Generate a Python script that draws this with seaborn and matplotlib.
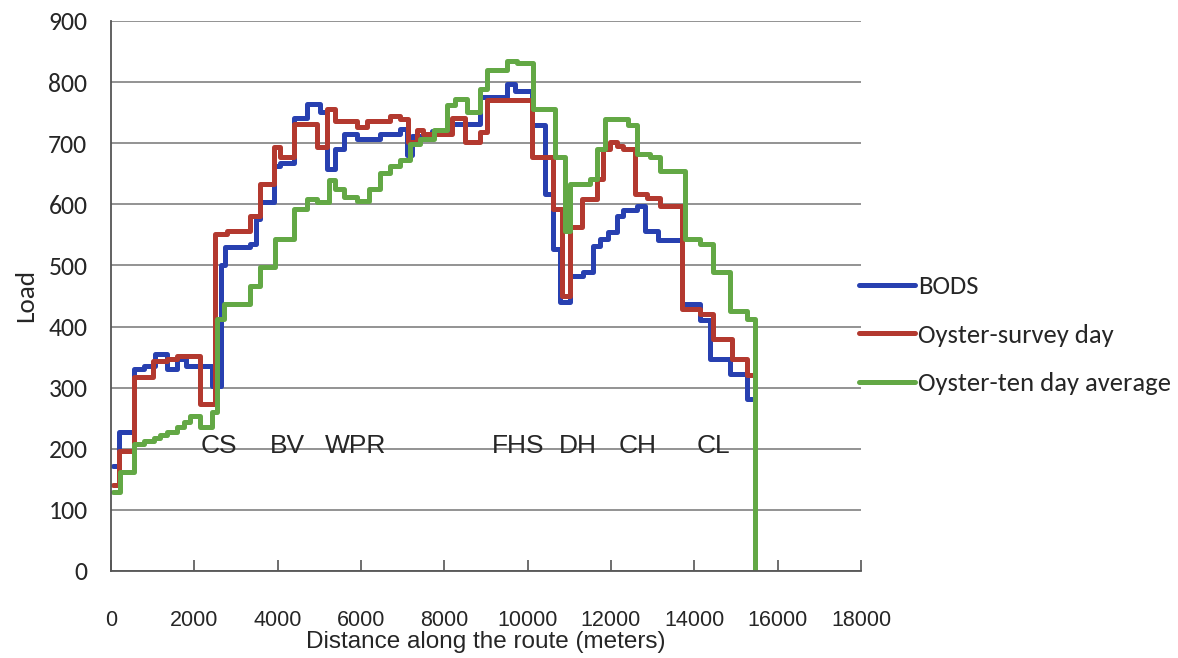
import matplotlib
matplotlib.use('Agg')

import matplotlib.pyplot as plt
import seaborn as sns
import pandas as pd

# step edges (m) and load after each edge
bods_x = [50, 185, 545, 785, 1065, 1345, 1585, 1800, 2424, 2630, 2743, 3343, 3480, 3583,
          3902, 4062, 4381, 4702, 5021, 5182, 5382, 5582, 5902, 6460, 6940, 7100, 7220,
          7700, 8180, 8858, 9498, 9698, 10098, 10417, 10616, 10776, 11017, 11337, 11577,
          11737, 11936, 12137, 12297, 12617, 12817, 13136, 13695, 14136, 14376, 14855, 15254]
bods_load = [172, 227, 330, 336, 355, 330, 347, 336, 303, 500, 530, 535, 576, 603,
             663, 668, 742, 764, 751, 658, 691, 715, 707, 715, 723, 680, 712,
             720, 731, 775, 797, 786, 729, 617, 527, 440, 483, 489, 532,
             543, 554, 581, 590, 598, 557, 541, 437, 410, 347, 322, 281]
bods_end = 15374

survey_x = [50, 185, 545, 1017, 1345, 1585, 2144, 2500, 2784, 3343, 3583, 3902, 4062,
            4381, 4942, 5182, 5382, 5902, 6141, 6700, 6940, 7139, 7340, 7499, 8180, 8498,
            8858, 9018, 10098, 10616, 10817, 11017, 11297, 11657, 11800, 11976, 12136,
            12296, 12575, 12856, 13175, 13694, 14143, 14454, 14893, 15254]
survey_load = [140, 197, 317, 344, 347, 352, 273, 551, 556, 581, 633, 693, 677,
               731, 693, 756, 737, 726, 737, 745, 740, 702, 721, 715, 742, 702,
               718, 770, 677, 592, 450, 563, 609, 641, 690, 702, 696,
               691, 617, 611, 598, 429, 420, 380, 347, 320]
survey_end = 15374

ten_x = [50, 225, 545, 785, 1025, 1185, 1345, 1585, 1745, 1905, 2144, 2424, 2545, 2703,
         3343, 3583, 3942, 4381, 4702, 4942, 5222, 5382, 5582, 5902, 6180, 6460, 6700,
         6940, 7180, 7420, 7740, 8060, 8259, 8539, 8858, 9018, 9498, 9738, 10137, 10657,
         10897, 11017, 11497, 11657, 11856, 12415, 12615, 12935, 13175, 13774, 14143,
         14454, 14853, 15254]
ten_load = [129, 162, 208, 213, 218, 223, 228, 236, 244, 254, 235, 260, 412, 437,
            467, 497, 543, 592, 609, 603, 639, 625, 612, 606, 625, 652, 663,
            672, 699, 707, 721, 762, 773, 751, 789, 819, 835, 832, 756, 677,
            557, 633, 641, 691, 740, 730, 682, 677, 655, 543, 535,
            489, 426, 412]
ten_end = 15453

stops = ['CS', 'BV', 'WPR', 'FHS', 'DH', 'CH', 'CL']
stop_x = [2580, 4235, 5860, 9770, 11210, 12650, 14450]
stop_y = 205

names = ['BODS', 'Oyster-survey day', 'Oyster-ten day average']
colors = ['#2840b0', '#b3392f', '#63a845']

frames = [
    pd.DataFrame({'x': bods_x + [bods_end], 'load': bods_load + [bods_load[-1]], 'src': names[0]}),
    pd.DataFrame({'x': survey_x + [survey_end], 'load': survey_load + [survey_load[-1]], 'src': names[1]}),
    pd.DataFrame({'x': ten_x + [ten_end], 'load': ten_load + [0], 'src': names[2]}),
]
df = pd.concat(frames, ignore_index=True)

sns.set_theme(style='white')
plt.rcParams['font.family'] = ['Liberation Sans', 'DejaVu Sans']
calibri = ['Carlito', 'Lato', 'DejaVu Sans']

fig = plt.figure(figsize=(11.78, 6.58), dpi=100)
ax = fig.add_axes([111 / 1178, 1 - 571 / 658, (861 - 111) / 1178, (571 - 21) / 658])

sns.lineplot(data=df, x='x', y='load', hue='src', palette=colors,
             drawstyle='steps-post', linewidth=3.6, ax=ax, legend=True)

ax.set_xlim(0, 18000)
ax.set_ylim(0, 900)
ax.set_xticks(range(0, 18001, 2000))
ax.set_yticks(range(0, 901, 100))
ax.yaxis.grid(True, color='#8a8a8a', linewidth=1.3)
ax.set_axisbelow(True)
for s in ['top', 'right']:
    ax.spines[s].set_visible(False)
for s in ['left', 'bottom']:
    ax.spines[s].set_color('#555555')
    ax.spines[s].set_linewidth(1.3)

ax.tick_params(axis='x', direction='in', length=8, width=1.2, color='#555555',
               pad=28, labelsize=15.5, bottom=True)
ax.tick_params(axis='y', length=0, pad=17, labelsize=18.5)
for lab in ax.get_yticklabels():
    lab.set_family(calibri)

ax.set_xlabel('Distance along the route (meters)', fontsize=17.5, labelpad=0)
ax.set_ylabel('Load', fontsize=19.5, labelpad=8, family=calibri)

for name, sx in zip(stops, stop_x):
    ax.text(sx, stop_y, name, ha='center', va='center', fontsize=19)

handles, labels = ax.get_legend_handles_labels()
ax.legend(handles, labels, loc='upper left', bbox_to_anchor=(846 / 1178, 1 - 262 / 658),
          bbox_transform=fig.transFigure, frameon=False,
          handlelength=2.1, handletextpad=0.1, labelspacing=0.95, borderpad=0,
          prop={'family': calibri, 'size': 19.2})

fig.savefig('out.png', dpi=100)
